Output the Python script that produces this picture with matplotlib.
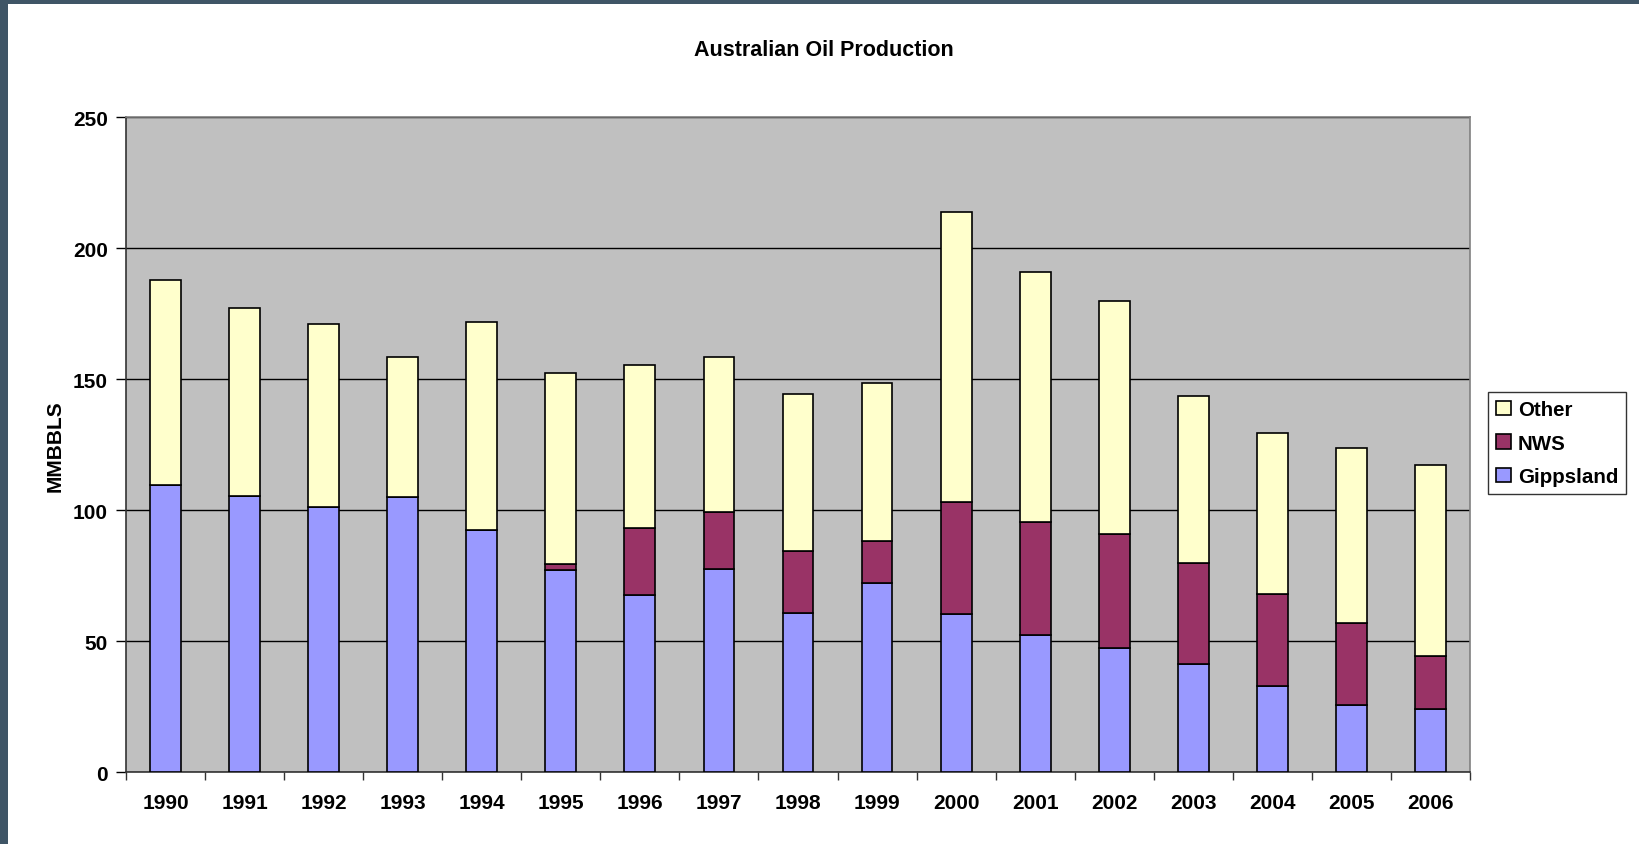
import numpy as np
import matplotlib
matplotlib.use('Agg')
import matplotlib.pyplot as plt
from matplotlib.patches import Rectangle

plt.rcParams['font.family'] = ['Liberation Sans', 'DejaVu Sans']
plt.rcParams['font.weight'] = 'bold'

# Data (MMBBLS)
years = ['1990', '1991', '1992', '1993', '1994', '1995', '1996', '1997', '1998',
         '1999', '2000', '2001', '2002', '2003', '2004', '2005', '2006']
gippsland = [109.5, 105.5, 101.2, 105.0, 92.5, 77.3, 67.6, 77.5, 60.7,
             72.4, 60.6, 52.4, 47.5, 41.2, 33.0, 25.5, 24.3]
nws_top = [109.5, 105.5, 101.2, 105.0, 92.5, 79.4, 93.1, 99.5, 84.4,
           88.2, 103.1, 95.6, 91.1, 79.9, 68.0, 56.9, 44.4]
totals = [188.0, 177.4, 171.1, 158.7, 171.9, 152.5, 155.6, 158.6, 144.3,
          148.7, 213.8, 191.0, 180.0, 143.7, 129.4, 123.8, 117.4]

gipp = np.array(gippsland)
nws = np.array(nws_top) - gipp
other = np.array(totals) - np.array(nws_top)

fig = plt.figure(figsize=(16.39, 8.45), dpi=100)
fig.patch.set_facecolor('white')

# dark frame strips on the top and left edges
fig.patches.append(Rectangle((0, 0), 8 / 1639, 1, transform=fig.transFigure,
                             facecolor='#3f5566', edgecolor='none', zorder=-1))
fig.patches.append(Rectangle((0, 1 - 5 / 845), 1, 5 / 845, transform=fig.transFigure,
                             facecolor='#3f5566', edgecolor='none', zorder=-1))

ax = fig.add_axes([126 / 1639, 1 - 773.3 / 845, (1470 - 126) / 1639, (773.3 - 118.3) / 845])
ax.set_facecolor('#c0c0c0')

x = np.arange(len(years))
w = 0.39
kw = dict(width=w, edgecolor='black', linewidth=1.2, zorder=3)
b1 = ax.bar(x, gipp, color='#9999ff', label='Gippsland', **kw)
b2 = ax.bar(x, nws, bottom=gipp, color='#993366', label='NWS', **kw)
b3 = ax.bar(x, other, bottom=gipp + nws, color='#ffffcc', label='Other', **kw)

ax.set_xlim(-0.5, len(years) - 0.5)
ax.set_ylim(0, 250)
ax.set_yticks([0, 50, 100, 150, 200, 250])
ax.yaxis.grid(True, color='black', linewidth=1.0, zorder=1)
ax.set_axisbelow(True)

ax.set_xticks(x)
ax.set_xticklabels(years, fontsize=15, fontweight='bold')
ax.set_xticks(np.arange(-0.5, len(years), 1), minor=True)
ax.tick_params(axis='x', which='major', length=0, pad=15)
ax.tick_params(axis='x', which='minor', length=6, width=1, color='#333333', direction='out')
ax.tick_params(axis='y', length=7, width=1, labelsize=15, pad=6)
for lab in ax.get_yticklabels():
    lab.set_fontweight('bold')

for side in ['top', 'right']:
    ax.spines[side].set_color('#808080')
    ax.spines[side].set_linewidth(1.2)
for side in ['left', 'bottom']:
    ax.spines[side].set_color('#333333')
    ax.spines[side].set_linewidth(1.2)

ax.set_ylabel('MMBBLS', fontsize=15, fontweight='bold', labelpad=6)

fig.text(824 / 1639, 1 - 50 / 845, 'Australian Oil Production', ha='center', va='center',
         fontsize=15.5, fontweight='bold')

leg = fig.legend([b3, b2, b1], ['Other', 'NWS', 'Gippsland'],
                 loc='upper left', bbox_to_anchor=(1488 / 1639, 1 - 393 / 845),
                 frameon=True, fancybox=False, edgecolor='black', fontsize=14.8,
                 handlelength=0.7, handleheight=0.7, handletextpad=0.35,
                 labelspacing=0.7, borderpad=0.4, borderaxespad=0)
leg.get_frame().set_linewidth(1.0)
for t in leg.get_texts():
    t.set_fontweight('bold')

fig.savefig('out.png', dpi=100)
